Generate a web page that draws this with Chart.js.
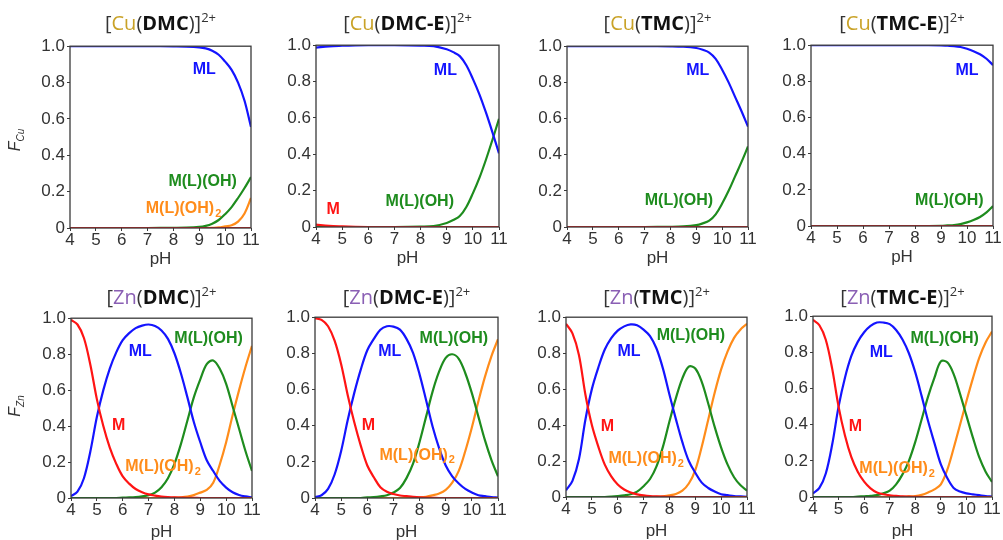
<!DOCTYPE html>
<html>
<head>
<meta charset="utf-8">
<script src="https://cdn.jsdelivr.net/npm/chart.js@4.4.1/dist/chart.umd.min.js"></script>
<style>
  html, body { margin: 0; padding: 0; background: #fff; overflow: hidden; }
  #wrap { position: relative; width: 1003px; height: 540px; }
  #wrap canvas { position: absolute; }
  .ttl { position: absolute; font-family: "Open Sans", "Noto Sans", sans-serif; font-size: 20px; color: #333;
         white-space: nowrap; transform: translateX(-50%); line-height: 1; }
  .ttl b { color: #111; }
  .ttl sup { font-size: 13px; vertical-align: 8px; }
  .cu { color: #c9a227; }
  .zn { color: #8a5fb4; }
  .ylab { position: absolute; font-family: "Liberation Sans", Arial, sans-serif; font-size: 16px; color: #333;
          transform: translate(-50%, -50%) rotate(-90deg); white-space: nowrap; }
  .ylab sub { font-size: 10px; }
</style>
</head>
<body>
<div id="wrap"></div>
<script>
// pH сетки: для Cu гуще у конца, для Zn шаг 0.25
const pHcu = [4, 4.5, 5, 5.5, 6, 7, 8, 8.5, 9, 9.25, 9.5, 9.75, 10, 10.25, 10.5, 10.75, 11];
const pHzn = [4, 4.25, 4.5, 4.75, 5, 5.25, 5.5, 5.75, 6, 6.25, 6.5, 6.75, 7, 7.25, 7.5, 7.75,
              8, 8.25, 8.5, 8.75, 9, 9.25, 9.5, 9.75, 10, 10.25, 10.5, 10.75, 11];
const xTicks = [4, 5, 6, 7, 8, 9, 10, 11];
const yTicks = [0, 0.2, 0.4, 0.6, 0.8, 1.0];

// [Cu(DMC)]2+
const cuDMC_M     = [0, 0, 0, 0, 0, 0, 0, 0, 0, 0, 0, 0, 0, 0, 0, 0, 0];
const cuDMC_ML    = [1, 1, 1, 1, 1, 1, 0.999, 0.998, 0.994, 0.988, 0.975, 0.953, 0.915, 0.87, 0.80, 0.70, 0.555];
const cuDMC_MLOH  = [0, 0, 0, 0, 0, 0, 0.001, 0.002, 0.006, 0.012, 0.024, 0.044, 0.076, 0.115, 0.165, 0.22, 0.28];
const cuDMC_MLOH2 = [0, 0, 0, 0, 0, 0, 0, 0, 0, 0, 0.001, 0.003, 0.009, 0.015, 0.035, 0.08, 0.165];

// [Cu(DMC-E)]2+
const cuDMCE_M    = [0.013, 0.006, 0.003, 0.001, 0, 0, 0, 0, 0, 0, 0, 0, 0, 0, 0, 0, 0];
const cuDMCE_ML   = [0.987, 0.994, 0.997, 0.999, 1, 1, 0.998, 0.995, 0.978, 0.962, 0.94, 0.89, 0.815, 0.73, 0.63, 0.52, 0.405];
const cuDMCE_MLOH = [0, 0, 0, 0, 0, 0, 0.002, 0.005, 0.022, 0.038, 0.06, 0.11, 0.185, 0.27, 0.37, 0.48, 0.595];

// [Cu(TMC)]2+
const cuTMC_M     = [0, 0, 0, 0, 0, 0, 0, 0, 0, 0, 0, 0, 0, 0, 0, 0, 0];
const cuTMC_ML    = [1, 1, 1, 1, 1, 1, 0.999, 0.997, 0.99, 0.98, 0.965, 0.93, 0.87, 0.80, 0.72, 0.64, 0.555];
const cuTMC_MLOH  = [0, 0, 0, 0, 0, 0, 0.001, 0.003, 0.01, 0.02, 0.035, 0.07, 0.13, 0.20, 0.28, 0.36, 0.445];

// [Cu(TMC-E)]2+
const cuTMCE_M    = [0, 0, 0, 0, 0, 0, 0, 0, 0, 0, 0, 0, 0, 0, 0, 0, 0];
const cuTMCE_ML   = [1, 1, 1, 1, 1, 1, 1, 1, 0.999, 0.997, 0.995, 0.99, 0.98, 0.967, 0.95, 0.925, 0.89];
const cuTMCE_MLOH = [0, 0, 0, 0, 0, 0, 0, 0, 0.001, 0.003, 0.005, 0.01, 0.02, 0.033, 0.05, 0.075, 0.11];

// [Zn(DMC)]2+
const znDMC_M     = [0.99, 0.965, 0.89, 0.74, 0.55, 0.40, 0.28, 0.19, 0.12, 0.08, 0.05, 0.032, 0.02, 0.013, 0.008,
                     0.005, 0.003, 0.002, 0.001, 0.001, 0, 0, 0, 0, 0, 0, 0, 0, 0];
const znDMC_ML    = [0.01, 0.035, 0.11, 0.26, 0.45, 0.60, 0.72, 0.81, 0.878, 0.917, 0.945, 0.959, 0.965, 0.957, 0.932,
                     0.885, 0.805, 0.694, 0.561, 0.423, 0.31, 0.21, 0.15, 0.095, 0.058, 0.032, 0.017, 0.009, 0.004];
const znDMC_MLOH  = [0, 0, 0, 0, 0, 0, 0, 0, 0.002, 0.003, 0.005, 0.009, 0.015, 0.03, 0.06,
                     0.11, 0.19, 0.30, 0.43, 0.56, 0.66, 0.745, 0.765, 0.72, 0.635, 0.51, 0.385, 0.26, 0.15];
const znDMC_MLOH2 = [0, 0, 0, 0, 0, 0, 0, 0, 0, 0, 0, 0, 0, 0, 0,
                     0, 0.002, 0.004, 0.008, 0.016, 0.03, 0.045, 0.085, 0.185, 0.31, 0.46, 0.60, 0.73, 0.846];

// [Zn(DMC-E)]2+
const znDMCE_M     = [0.995, 0.985, 0.95, 0.87, 0.74, 0.57, 0.42, 0.29, 0.18, 0.115, 0.06, 0.035, 0.022, 0.014, 0.01,
                      0.006, 0.003, 0.002, 0.001, 0, 0, 0, 0, 0, 0, 0, 0, 0, 0];
const znDMCE_ML    = [0.005, 0.015, 0.05, 0.13, 0.26, 0.43, 0.58, 0.71, 0.817, 0.88, 0.931, 0.95, 0.948, 0.931, 0.88,
                      0.803, 0.684, 0.541, 0.394, 0.275, 0.18, 0.12, 0.08, 0.05, 0.03, 0.015, 0.01, 0.005, 0.002];
const znDMCE_MLOH  = [0, 0, 0, 0, 0, 0, 0, 0, 0.003, 0.005, 0.009, 0.015, 0.03, 0.055, 0.11,
                      0.19, 0.31, 0.45, 0.59, 0.70, 0.775, 0.795, 0.77, 0.69, 0.58, 0.45, 0.32, 0.21, 0.12];
const znDMCE_MLOH2 = [0, 0, 0, 0, 0, 0, 0, 0, 0, 0, 0, 0, 0, 0, 0,
                      0.001, 0.003, 0.007, 0.015, 0.025, 0.045, 0.085, 0.15, 0.26, 0.39, 0.535, 0.67, 0.785, 0.878];

// [Zn(TMC)]2+
const znTMC_M     = [0.963, 0.91, 0.79, 0.57, 0.40, 0.28, 0.18, 0.115, 0.07, 0.042, 0.025, 0.015, 0.009, 0.005, 0.003,
                     0.002, 0.001, 0, 0, 0, 0, 0, 0, 0, 0, 0, 0, 0, 0];
const znTMC_ML    = [0.037, 0.09, 0.21, 0.43, 0.60, 0.72, 0.82, 0.883, 0.925, 0.949, 0.96, 0.955, 0.931, 0.895, 0.826,
                     0.714, 0.57, 0.433, 0.305, 0.20, 0.135, 0.08, 0.05, 0.03, 0.015, 0.01, 0.005, 0.003, 0.001];
const znTMC_MLOH  = [0, 0, 0, 0, 0, 0, 0, 0.002, 0.005, 0.009, 0.015, 0.03, 0.06, 0.10, 0.17,
                     0.28, 0.42, 0.55, 0.66, 0.725, 0.715, 0.64, 0.52, 0.39, 0.275, 0.18, 0.11, 0.065, 0.036];
const znTMC_MLOH2 = [0, 0, 0, 0, 0, 0, 0, 0, 0, 0, 0, 0, 0, 0, 0.001,
                     0.004, 0.009, 0.017, 0.035, 0.075, 0.15, 0.28, 0.43, 0.58, 0.71, 0.81, 0.885, 0.932, 0.963];

// [Zn(TMC-E)]2+
const znTMCE_M     = [0.98, 0.95, 0.87, 0.71, 0.50, 0.34, 0.22, 0.14, 0.085, 0.048, 0.025, 0.015, 0.009, 0.006, 0.003,
                      0.002, 0.001, 0, 0, 0, 0, 0, 0, 0, 0, 0, 0, 0, 0];
const znTMCE_ML    = [0.02, 0.05, 0.13, 0.29, 0.50, 0.66, 0.78, 0.858, 0.911, 0.946, 0.965, 0.965, 0.956, 0.924, 0.871,
                      0.795, 0.689, 0.558, 0.42, 0.298, 0.18, 0.105, 0.05, 0.03, 0.02, 0.015, 0.01, 0.005, 0.002];
const znTMCE_MLOH  = [0, 0, 0, 0, 0, 0, 0, 0.002, 0.004, 0.006, 0.01, 0.02, 0.035, 0.07, 0.125,
                      0.20, 0.305, 0.43, 0.555, 0.66, 0.75, 0.745, 0.68, 0.57, 0.45, 0.33, 0.22, 0.14, 0.083];
const znTMCE_MLOH2 = [0, 0, 0, 0, 0, 0, 0, 0, 0, 0, 0, 0, 0, 0, 0.001,
                      0.003, 0.005, 0.012, 0.025, 0.042, 0.07, 0.15, 0.27, 0.40, 0.53, 0.655, 0.77, 0.855, 0.915];

const colors = { M: "#ff1414", ML: "#1414ff", MLOH: "#1e8c1e", MLOH2: "#ff8c1a" };

// панели: заголовок, рамка графика, серии, подписи
const panels = [
  { metal: "Cu", lig: "DMC", box: [70, 46, 181, 182], ph: pHcu,
    series: { M: cuDMC_M, ML: cuDMC_ML, MLOH: cuDMC_MLOH, MLOH2: cuDMC_MLOH2 },
    labels: [["ML", 9.19, 0.87, "ML"], ["M(L)(OH)", 9.13, 0.257, "MLOH"], ["M(L)(OH)", 8.39, 0.105, "MLOH2", "2"]] },
  { metal: "Cu", lig: "DMC-E", box: [316, 45, 183, 182], ph: pHcu,
    series: { M: cuDMCE_M, ML: cuDMCE_ML, MLOH: cuDMCE_MLOH },
    labels: [["ML", 8.95, 0.86, "ML"], ["M", 4.66, 0.095, "M"], ["M(L)(OH)", 7.97, 0.14, "MLOH"]] },
  { metal: "Cu", lig: "TMC", box: [567, 46, 181, 181], ph: pHcu,
    series: { M: cuTMC_M, ML: cuTMC_ML, MLOH: cuTMC_MLOH },
    labels: [["ML", 9.06, 0.866, "ML"], ["M(L)(OH)", 8.33, 0.145, "MLOH"]] },
  { metal: "Cu", lig: "TMC-E", box: [811, 45, 182, 181], ph: pHcu,
    series: { M: cuTMCE_M, ML: cuTMCE_ML, MLOH: cuTMCE_MLOH },
    labels: [["ML", 10.0, 0.862, "ML"], ["M(L)(OH)", 9.32, 0.14, "MLOH"]] },
  { metal: "Zn", lig: "DMC", box: [71, 318, 181, 180], ph: pHzn,
    series: { M: znDMC_M, ML: znDMC_ML, MLOH: znDMC_MLOH, MLOH2: znDMC_MLOH2 },
    labels: [["ML", 6.68, 0.814, "ML"], ["M(L)(OH)", 9.32, 0.888, "MLOH"], ["M", 5.84, 0.40, "M"], ["M(L)(OH)", 7.56, 0.173, "MLOH2", "2"]] },
  { metal: "Zn", lig: "DMC-E", box: [315, 317, 183, 181], ph: pHzn,
    series: { M: znDMCE_M, ML: znDMCE_ML, MLOH: znDMCE_MLOH, MLOH2: znDMCE_MLOH2 },
    labels: [["ML", 6.86, 0.81, "ML"], ["M(L)(OH)", 9.31, 0.884, "MLOH"], ["M", 6.04, 0.40, "M"], ["M(L)(OH)", 7.91, 0.237, "MLOH2", "2"]] },
  { metal: "Zn", lig: "TMC", box: [566, 317, 181, 180], ph: pHzn,
    series: { M: znTMC_M, ML: znTMC_ML, MLOH: znTMC_MLOH, MLOH2: znTMC_MLOH2 },
    labels: [["ML", 6.44, 0.806, "ML"], ["M(L)(OH)", 8.83, 0.898, "MLOH"], ["M", 5.60, 0.393, "M"], ["M(L)(OH)", 7.10, 0.213, "MLOH2", "2"]] },
  { metal: "Zn", lig: "TMC-E", box: [813, 316, 179, 181], ph: pHzn,
    series: { M: znTMCE_M, ML: znTMCE_ML, MLOH: znTMCE_MLOH, MLOH2: znTMCE_MLOH2 },
    labels: [["ML", 6.67, 0.80, "ML"], ["M(L)(OH)", 9.15, 0.876, "MLOH"], ["M", 5.66, 0.39, "M"], ["M(L)(OH)", 7.29, 0.157, "MLOH2", "2"]] }
];

// рамка вокруг области графика
const boxPlugin = {
  id: "box",
  afterDraw(chart) {
    const { ctx, chartArea: a } = chart;
    ctx.save();
    ctx.strokeStyle = "#3a3a3a";
    ctx.lineWidth = 1.3;
    ctx.strokeRect(a.left, a.top, a.right - a.left, a.bottom - a.top);
    ctx.restore();
  }
};

// подписи форм прямо на графике
const speciesLabels = {
  id: "speciesLabels",
  afterDatasetsDraw(chart, args, opts) {
    const { ctx, scales } = chart;
    ctx.save();
    ctx.textBaseline = "middle";
    (opts.items || []).forEach(([text, x, y, key, sub]) => {
      const font = "bold 16px 'Liberation Sans', Arial, sans-serif";
      const subFont = "bold 11px 'Liberation Sans', Arial, sans-serif";
      ctx.font = font;
      const w = ctx.measureText(text).width;
      ctx.font = subFont;
      const sw = sub ? ctx.measureText(sub).width + 1 : 0;
      const px = scales.x.getPixelForValue(x) - (w + sw) / 2;
      const py = scales.y.getPixelForValue(y);
      ctx.fillStyle = colors[key];
      ctx.textAlign = "left";
      ctx.font = font;
      ctx.fillText(text, px, py);
      if (sub) {
        ctx.font = subFont;
        ctx.fillText(sub, px + w + 1, py + 5);
      }
    });
    ctx.restore();
  }
};

const wrap = document.getElementById("wrap");
const axisW = 45, padT = 12, padR = 12;

panels.forEach((p, idx) => {
  const [L, T, W, H] = p.box;
  const axisH = idx < 4 ? 42 : 45;

  const canvas = document.createElement("canvas");
  canvas.width = axisW + W + padR;
  canvas.height = padT + H + axisH;
  canvas.style.left = (L - axisW) + "px";
  canvas.style.top = (T - padT) + "px";
  wrap.appendChild(canvas);

  // заголовок
  const t = document.createElement("div");
  t.className = "ttl";
  t.innerHTML = `[<span class="${p.metal === "Cu" ? "cu" : "zn"}">${p.metal}</span>(<b>${p.lig}</b>)]<sup>2+</sup>`;
  t.style.left = (L + W / 2) + "px";
  t.style.top = (idx < 4 ? 11 : 285) + "px";
  wrap.appendChild(t);

  const datasets = Object.entries(p.series).map(([key, vals]) => ({
    label: key,
    data: p.ph.map((x, i) => ({ x: x, y: vals[i] })),
    borderColor: colors[key],
    borderWidth: 2.2,
    pointRadius: 0,
    tension: 0.35,
    fill: false
  }));

  new Chart(canvas, {
    type: "line",
    data: { datasets },
    options: {
      responsive: false,
      animation: false,
      devicePixelRatio: 1,
      layout: { padding: { top: padT, right: padR, left: 0, bottom: 0 } },
      plugins: {
        legend: { display: false },
        tooltip: { enabled: false },
        speciesLabels: { items: p.labels }
      },
      scales: {
        x: {
          type: "linear",
          min: 4, max: 11,
          afterFit: (s) => { s.height = axisH; },
          afterBuildTicks: (s) => { s.ticks = xTicks.map(v => ({ value: v })); },
          ticks: { color: "#333", padding: 1, maxRotation: 0, autoSkip: false,
                   font: { family: "'Liberation Sans', Arial, sans-serif", size: 17, lineHeight: 1 } },
          grid: { drawOnChartArea: false, tickLength: 3, color: "#3a3a3a" },
          border: { display: false },
          title: { display: true, text: "pH", color: "#333", padding: 0,
                   font: { family: "'Liberation Sans', Arial, sans-serif", size: 17, lineHeight: 1.2 } }
        },
        y: {
          min: 0, max: 1,
          afterFit: (s) => { s.width = axisW; },
          afterBuildTicks: (s) => { s.ticks = yTicks.map(v => ({ value: v })); },
          ticks: { color: "#333", padding: 2,
                   font: { family: "'Liberation Sans', Arial, sans-serif", size: 17 },
                   callback: (v) => v === 0 ? "0" : v.toFixed(1) },
          grid: { drawOnChartArea: false, tickLength: 3, color: "#3a3a3a" },
          border: { display: false }
        }
      }
    },
    plugins: [boxPlugin, speciesLabels]
  });
});

// подписи оси Y в первом столбце
[["Cu", 16, 140], ["Zn", 16, 406]].forEach(([m, x, y]) => {
  const d = document.createElement("div");
  d.className = "ylab";
  d.innerHTML = `<i>F</i><sub><i>${m}</i></sub>`;
  d.style.left = x + "px";
  d.style.top = y + "px";
  wrap.appendChild(d);
});
</script>
</body>
</html>
